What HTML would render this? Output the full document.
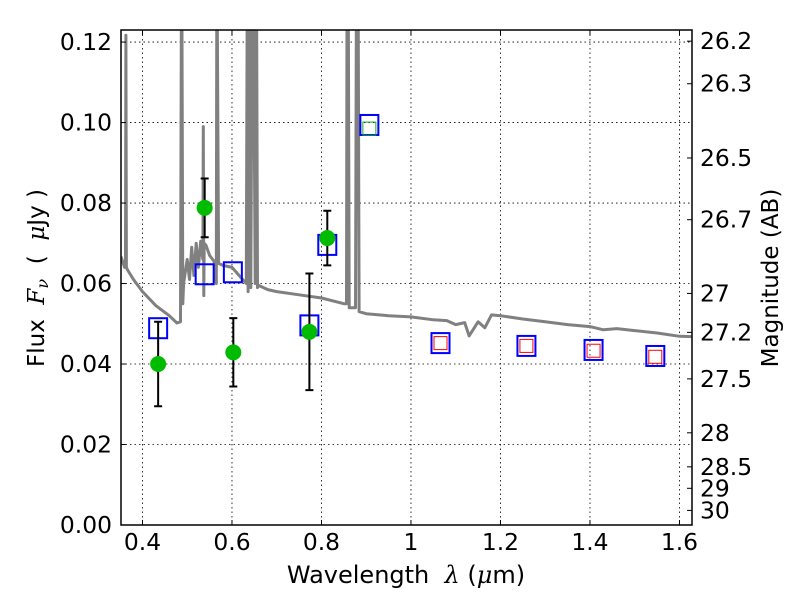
<!DOCTYPE html>
<html><head><meta charset="utf-8"><style>
body{margin:0;background:#fff}
svg text{font-family:"DejaVu Sans","Liberation Sans",sans-serif;fill:#000}
</style></head><body>
<svg id="chart" width="800" height="600" viewBox="0 0 800 600" xmlns="http://www.w3.org/2000/svg">
<defs><clipPath id="clip"><rect x="121" y="30" width="571" height="495"/></clipPath></defs>
<rect width="800" height="600" fill="#fff"/>
<g id="grid"></g>
<g id="spec" clip-path="url(#clip)"></g>
<g id="marks" clip-path="url(#clip)"></g>
<g id="axes"></g>
<text transform="translate(44,278) rotate(-90)" text-anchor="middle" font-size="23" xml:space="preserve">Flux  <tspan font-family="DejaVu Serif" font-style="italic">F</tspan><tspan font-family="DejaVu Serif" font-style="italic" font-size="16" dy="4">ν</tspan><tspan dy="-4">  (  </tspan><tspan font-family="DejaVu Serif" font-style="italic">μ</tspan>Jy )</text>
<text transform="translate(778,278) rotate(-90)" text-anchor="middle" font-size="23">Magnitude (AB)</text>
<text x="406" y="583" text-anchor="middle" font-size="24" xml:space="preserve">Wavelength  <tspan font-family="DejaVu Serif" font-style="italic">λ</tspan> (<tspan font-family="DejaVu Serif" font-style="italic">μ</tspan>m)</text>
</svg>
<script>
const xTicks=[0.4,0.6,0.8,1,1.2,1.4,1.6];
const xTickLabels=["0.4","0.6","0.8","1","1.2","1.4","1.6"];
const yTicks=[0,0.02,0.04,0.06,0.08,0.10,0.12];
const yTickLabels=["0.00","0.02","0.04","0.06","0.08","0.10","0.12"];
const magTicks=[26.2,26.3,26.5,26.7,27,27.2,27.5,28,28.5,29,30];
const magTickLabels=["26.2","26.3","26.5","26.7","27","27.2","27.5","28","28.5","29","30"];
const specWave=[0.352,0.36,0.362,0.363,0.364,0.366,0.38,0.40,0.43,0.46,0.477,0.485,0.487,0.488,0.49,0.492,0.50,0.505,0.51,0.515,0.52,0.525,0.53,0.535,0.536,0.537,0.538,0.542,0.55,0.56,0.565,0.566,0.567,0.57,0.58,0.6,0.62,0.632,0.634,0.636,0.64,0.642,0.645,0.648,0.652,0.655,0.657,0.66,0.68,0.7,0.75,0.8,0.85,0.856,0.857,0.86,0.862,0.876,0.878,0.882,0.884,0.9,0.95,1.0,1.05,1.08,1.1,1.12,1.13,1.15,1.165,1.18,1.2,1.25,1.3,1.35,1.4,1.43,1.46,1.5,1.55,1.6,1.63];
const specFlux=[0.0667,0.064,0.064,0.1217,0.064,0.0635,0.061,0.058,0.0545,0.052,0.0502,0.0505,0.13,0.13,0.055,0.060,0.066,0.061,0.069,0.062,0.070,0.064,0.0705,0.066,0.099,0.057,0.070,0.0695,0.067,0.0655,0.06,0.13,0.13,0.065,0.0645,0.064,0.0615,0.06,0.13,0.058,0.13,0.059,0.13,0.13,0.06,0.13,0.059,0.0595,0.0585,0.058,0.0572,0.0564,0.055,0.055,0.13,0.13,0.054,0.054,0.13,0.13,0.053,0.0525,0.052,0.0517,0.051,0.0508,0.0498,0.0503,0.047,0.0505,0.049,0.0522,0.052,0.0512,0.0505,0.0498,0.0493,0.0485,0.0488,0.0483,0.0477,0.0469,0.0468];
const obsWave=[0.435,0.539,0.603,0.773,0.813];
const obsFlux=[0.0400,0.0788,0.0429,0.0480,0.0713];
const obsErr=[0.0105,0.0073,0.0085,0.0145,0.0068];
const synWave=[0.435,0.539,0.602,0.773,0.813,0.907,1.066,1.258,1.408,1.546];
const synFlux=[0.0489,0.0623,0.0628,0.0496,0.0696,0.0994,0.0452,0.0445,0.0435,0.0420];
const innerWave=[0.907,1.066,1.258,1.408,1.546];
const innerFlux=[0.0985,0.0452,0.0445,0.0433,0.0418];
const innerColor=["#1aaa1a","red","red","red","red"];

const L=121,R=692,T=30,B=525;
const X0=0.352,X1=1.628,Y0=0,Y1=0.123;
const sx=v=>L+(v-X0)/(X1-X0)*(R-L);
const sy=v=>B-(v-Y0)/(Y1-Y0)*(B-T);
const NS="http://www.w3.org/2000/svg";
function mk(tag,attrs,parent){const e=document.createElementNS(NS,tag);for(const k in attrs)e.setAttribute(k,attrs[k]);parent.appendChild(e);return e;}
const grid=document.getElementById('grid'),axes=document.getElementById('axes'),spec=document.getElementById('spec'),marks=document.getElementById('marks');
xTicks.forEach((v,i)=>{const x=sx(v);
 let g=mk('line',{x1:x,x2:x,y1:T,y2:B,stroke:'#000','stroke-width':0.8,'stroke-dasharray':'1.5,3'},grid);
 
 mk('line',{x1:x,x2:x,y1:B,y2:B-5,stroke:'#000','stroke-width':1},axes);
 mk('line',{x1:x,x2:x,y1:T,y2:T+5,stroke:'#000','stroke-width':1},axes);
 let t=mk('text',{x:x,y:B+25,'text-anchor':'middle','font-size':23.4},axes);t.textContent=xTickLabels[i];
 });
yTicks.forEach((v,i)=>{const y=sy(v);
 let g=mk('line',{x1:L,x2:R,y1:y,y2:y,stroke:'#000','stroke-width':0.8,'stroke-dasharray':'1.5,3'},grid);
 
 mk('line',{x1:L,x2:L+5,y1:y,y2:y,stroke:'#000','stroke-width':1},axes);
 let t=mk('text',{x:L-9,y:y+8,'text-anchor':'end','font-size':23.4},axes);t.textContent=yTickLabels[i];
 });
magTicks.forEach((m,i)=>{const y=sy(Math.pow(10,(23.9-m)/2.5));
 mk('line',{x1:R,x2:R-5,y1:y,y2:y,stroke:'#000','stroke-width':1},axes);
 let t=mk('text',{x:R+8,y:y+8,'text-anchor':'start','font-size':23.4},axes);t.textContent=magTickLabels[i];
 });
let fr=mk('rect',{x:L,y:T,width:R-L,height:B-T,fill:'none',stroke:'#000','stroke-width':1.5},axes);

let pts=specWave.map((w,i)=>sx(w).toFixed(1)+','+sy(specFlux[i]).toFixed(1)).join(' ');
let pl=mk('polyline',{points:pts,fill:'none',stroke:'#808080','stroke-width':3,'stroke-linejoin':'round'},spec);

synWave.forEach((w,i)=>{const x=sx(w),y=sy(synFlux[i]);
 let r=mk('rect',{x:x-9,y:y-10,width:18,height:20,fill:'none',stroke:'#0000ff','stroke-width':2},marks);
 });
innerWave.forEach((w,i)=>{const x=sx(w),y=sy(innerFlux[i]);
 let r=mk('rect',{x:x-6.5,y:y-6.5,width:13,height:13,fill:'none',stroke:innerColor[i],'stroke-width':1},marks);
 });
obsWave.forEach((w,i)=>{const x=sx(w),y=sy(obsFlux[i]),yt=sy(obsFlux[i]+obsErr[i]),yb=sy(obsFlux[i]-obsErr[i]);
 let e=mk('path',{d:`M${x},${yt}V${yb}M${x-4},${yt}H${x+4}M${x-4},${yb}H${x+4}`,stroke:'#000','stroke-width':2,fill:'none'},marks);
 
 let c=mk('circle',{cx:x,cy:y,r:8,fill:'#00bb00'},marks);
 });
</script>
</body></html>
